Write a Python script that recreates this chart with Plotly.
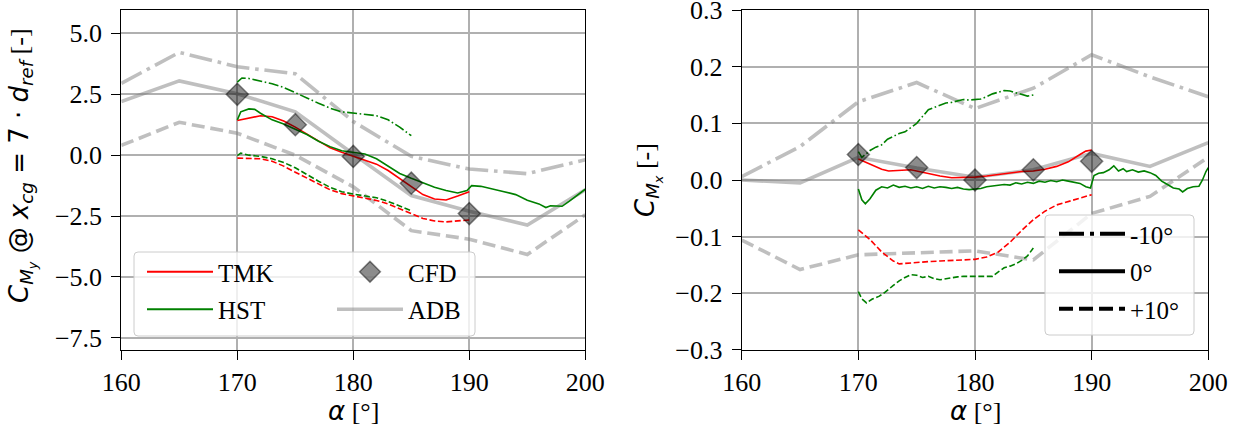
import plotly.graph_objects as go

# ---------------- data ----------------
alpha_adb = [160, 165, 170, 175, 180, 185, 190, 195, 200]
alpha_cfd = [170, 175, 180, 185, 190]

# Left: C_My
adb_my_m10 = [2.95, 4.22, 3.63, 3.34, 1.38, -0.05, -0.57, -0.76, -0.19]
adb_my_0 = [2.2, 3.05, 2.52, 1.78, 0.05, -1.66, -2.3, -2.87, -1.42]
adb_my_p10 = [0.4, 1.35, 0.9, 0.0, -1.3, -3.1, -3.45, -4.08, -2.45]
cfd_my = [2.5, 1.25, -0.05, -1.15, -2.4]

tmk_my_0_a = [170, 171, 172, 173, 174, 175, 176, 177, 178, 179, 180, 181, 182, 183, 184, 185, 186, 187, 188, 189, 190]
tmk_my_0 = [1.42, 1.53, 1.62, 1.58, 1.4, 1.15, 0.87, 0.57, 0.3, 0.12, -0.04, -0.2, -0.37, -0.63, -0.97, -1.3, -1.62, -1.8, -1.84, -1.68, -1.5]

tmk_my_p10_a = [170, 171, 172, 173, 174, 175, 176, 177, 178, 179, 180, 181, 182, 183, 184, 185, 186, 187, 188, 189, 190]
tmk_my_p10 = [-0.12, -0.12, -0.15, -0.25, -0.45, -0.7, -0.95, -1.2, -1.42, -1.58, -1.67, -1.77, -1.86, -2.0, -2.2, -2.42, -2.6, -2.7, -2.74, -2.7, -2.66]

hst_my_0_a = [170, 170.3, 171, 171.5, 172, 173, 174, 175, 176, 177, 178, 179, 180, 181, 182, 183, 184, 185, 186, 187, 188, 189,
              189.8, 190.2, 191, 192, 193, 194, 195, 196, 196.6, 197, 198, 198.6, 199.3, 200]
hst_my_0 = [1.45, 1.78, 1.9, 1.88, 1.72, 1.45, 1.28, 1.08, 0.85, 0.57, 0.35, 0.18, 0.1, 0.05, -0.15, -0.45, -0.75, -0.95, -1.15, -1.32, -1.45, -1.55,
            -1.45, -1.25, -1.28, -1.38, -1.5, -1.62, -1.85, -2.0, -2.15, -2.08, -2.1, -1.9, -1.65, -1.4]

hst_my_m10_a = [170, 170.4, 171, 172, 173, 174, 175, 176, 177, 178, 179, 180, 181, 182, 183, 184, 185]
hst_my_m10 = [3.0, 3.17, 3.15, 3.05, 2.93, 2.78, 2.58, 2.35, 2.13, 1.93, 1.78, 1.72, 1.66, 1.62, 1.45, 1.15, 0.8]

hst_my_p10_a = [170, 170.3, 171, 172, 173, 174, 175, 176, 177, 178, 179, 180, 181, 182, 183, 184, 185]
hst_my_p10 = [-0.02, 0.08, 0.0, -0.05, -0.15, -0.3, -0.52, -0.8, -1.07, -1.32, -1.5, -1.6, -1.68, -1.75, -1.9, -2.08, -2.28]

# Right: C_Mx
adb_mx_m10 = [0.006, 0.059, 0.138, 0.172, 0.126, 0.162, 0.221, 0.182, 0.147]
adb_mx_0 = [0.0, -0.005, 0.04, 0.021, 0.005, 0.018, 0.047, 0.024, 0.066]
adb_mx_p10 = [-0.106, -0.158, -0.132, -0.128, -0.125, -0.141, -0.059, -0.029, 0.04]
cfd_mx = [0.045, 0.022, 0.0, 0.018, 0.033]

tmk_mx_0_a = [170, 171, 172, 172.6, 173.5, 174.5, 175, 176, 177, 178, 179, 180, 181, 182, 183, 184, 185, 186, 187, 188, 189, 189.5, 190]
tmk_mx_0 = [0.037, 0.028, 0.019, 0.016, 0.017, 0.018, 0.016, 0.011, 0.007, 0.004, 0.004, 0.005, 0.007, 0.01, 0.013, 0.015, 0.016, 0.019, 0.024, 0.032, 0.045, 0.051, 0.053]

tmk_mx_p10_a = [170, 171, 172, 173, 173.5, 174.5, 176, 177, 178, 179, 180, 181, 182, 183, 184, 185, 186, 187, 188, 189, 190]
tmk_mx_p10 = [-0.088, -0.105, -0.127, -0.143, -0.148, -0.146, -0.144, -0.143, -0.142, -0.141, -0.14, -0.136, -0.127, -0.11, -0.089, -0.07, -0.055, -0.044, -0.038, -0.033, -0.026]

hst_mx_0_a = [170, 170.3, 170.6, 171, 171.5, 172, 172.5, 173, 173.5, 174, 174.5, 175, 175.5, 176, 176.5, 177, 177.5, 178, 178.5, 179, 179.5,
              180, 180.5, 181, 181.5, 182, 182.5, 183, 183.5, 184, 184.5, 185, 185.5, 186, 186.5, 187, 187.5, 188, 188.5, 189, 189.5, 189.9,
              190.2, 190.6, 191, 191.5, 191.9, 192.3, 192.7, 193, 193.5, 194, 194.5, 195, 195.5, 196, 196.5, 197, 197.5, 197.8, 198.2, 198.7,
              199.2, 199.5, 199.8, 200]
hst_mx_0 = [-0.016, -0.035, -0.042, -0.033, -0.018, -0.012, -0.014, -0.009, -0.013, -0.011, -0.014, -0.012, -0.015, -0.011, -0.014, -0.012,
            -0.013, -0.015, -0.013, -0.016, -0.017, -0.016, -0.015, -0.012, -0.011, -0.010, -0.008, -0.009, -0.005, -0.007, -0.004, -0.006,
            -0.002, -0.004, -0.001, -0.003, 0.0, -0.002, -0.004, -0.006, -0.012, -0.014, 0.008, 0.012, 0.013, 0.018, 0.025, 0.016, 0.02,
            0.015, 0.018, 0.014, 0.016, 0.013, 0.008, -0.002, -0.008, -0.014, -0.016, -0.021, -0.015, -0.012, -0.011, 0.0, 0.015, 0.022]

hst_mx_m10_a = [170, 170.3, 170.6, 171, 171.5, 172, 172.5, 173, 173.5, 174, 174.5, 175, 175.5, 176, 176.5, 177, 177.5, 178, 178.5, 179,
                179.5, 180, 180.5, 181, 181.5, 182, 182.5, 183, 183.5, 184, 184.5, 185]
hst_mx_m10 = [0.05, 0.04, 0.045, 0.052, 0.058, 0.062, 0.072, 0.077, 0.082, 0.085, 0.092, 0.1, 0.112, 0.124, 0.128, 0.132, 0.136, 0.137,
              0.14, 0.142, 0.141, 0.142, 0.143, 0.147, 0.152, 0.155, 0.158, 0.157, 0.154, 0.15, 0.148, 0.15]

hst_mx_p10_a = [170, 170.3, 170.7, 171.2, 171.8, 172.3, 173, 173.5, 174, 174.5, 175, 175.5, 176, 176.5, 177, 177.5, 178, 178.5, 179, 180,
                181, 181.5, 182, 182.5, 183, 183.5, 184, 184.5, 185]
hst_mx_p10 = [-0.197, -0.21, -0.217, -0.21, -0.205, -0.198, -0.186, -0.178, -0.172, -0.167, -0.168, -0.172, -0.17, -0.174, -0.176, -0.174,
              -0.172, -0.171, -0.17, -0.17, -0.171, -0.17, -0.162, -0.155, -0.152, -0.148, -0.142, -0.134, -0.12]

x_ticks = [160, 170, 180, 190, 200]
left_y_ticks = [-7.5, -5.0, -2.5, 0.0, 2.5, 5.0]
right_y_ticks = [-0.3, -0.2, -0.1, 0.0, 0.1, 0.2, 0.3]

# ---------------- styles ----------------
W, H = 1235, 430
RED = "#ff0000"
GREEN = "#008000"
GRAY = "rgba(128,128,128,0.5)"
SERIF = "Liberation Serif, Times New Roman, serif"
MATHF = "DejaVu Sans"
FS_TICK = 26
FS_LEG = 25
FS_TITLE = 26

THIN = 1.6
THICK = 3.6
dash_thin = "5.9px,2.6px"
dashdot_thin = "10px,2.6px,1.6px,2.6px"
dash_thick = "13px,5.8px"
dashdot_thick = "23px,5.8px,3.6px,5.8px"

fig = go.Figure()


def add(x, y, color, width, dash, xa, ya, name=None, legend=None, group=None):
    fig.add_trace(go.Scatter(
        x=x, y=y, mode="lines", xaxis=xa, yaxis=ya,
        line=dict(color=color, width=width, dash=dash),
        name=name or "", showlegend=legend is not None,
        legend=legend or "legend", legendgroup=group,
    ))


# ---- left panel ----
add(alpha_adb, adb_my_m10, GRAY, THICK, dashdot_thick, "x", "y")
add(alpha_adb, adb_my_0, GRAY, THICK, "solid", "x", "y")
add(alpha_adb, adb_my_p10, GRAY, THICK, dash_thick, "x", "y")
add(tmk_my_0_a, tmk_my_0, RED, THIN, "solid", "x", "y")
add(tmk_my_p10_a, tmk_my_p10, RED, THIN, dash_thin, "x", "y")
add(hst_my_0_a, hst_my_0, GREEN, THIN, "solid", "x", "y")
add(hst_my_m10_a, hst_my_m10, GREEN, THIN, dashdot_thin, "x", "y")
add(hst_my_p10_a, hst_my_p10, GREEN, THIN, dash_thin, "x", "y")

# ---- right panel ----
add(alpha_adb, adb_mx_m10, GRAY, THICK, dashdot_thick, "x2", "y2")
add(alpha_adb, adb_mx_0, GRAY, THICK, "solid", "x2", "y2")
add(alpha_adb, adb_mx_p10, GRAY, THICK, dash_thick, "x2", "y2")
add(tmk_mx_0_a, tmk_mx_0, RED, THIN, "solid", "x2", "y2")
add(tmk_mx_p10_a, tmk_mx_p10, RED, THIN, dash_thin, "x2", "y2")
add(hst_mx_0_a, hst_mx_0, GREEN, THIN, "solid", "x2", "y2")
add(hst_mx_m10_a, hst_mx_m10, GREEN, THIN, dashdot_thin, "x2", "y2")
add(hst_mx_p10_a, hst_mx_p10, GREEN, THIN, dash_thin, "x2", "y2")

diamond = dict(symbol="diamond", size=17, color="rgba(0,0,0,0.45)",
               line=dict(color="rgba(0,0,0,0.45)", width=1.5))
fig.add_trace(go.Scatter(x=alpha_cfd, y=cfd_my, mode="markers", marker=diamond,
                         xaxis="x", yaxis="y", showlegend=False))
fig.add_trace(go.Scatter(x=alpha_cfd, y=cfd_mx, mode="markers", marker=diamond,
                         xaxis="x2", yaxis="y2", showlegend=False))

# ---- legend entries ----
add([None], [None], RED, 2, "solid", "x", "y", name="TMK", legend="legend", group="g1")
add([None], [None], GREEN, 2, "solid", "x", "y", name="HST", legend="legend", group="g2")
fig.add_trace(go.Scatter(x=[None], y=[None], mode="markers", marker=diamond, name="CFD",
                         xaxis="x", yaxis="y", legend="legend2", legendgroup="g3"))
add([None], [None], GRAY, THICK, "solid", "x", "y", name="ADB", legend="legend2", group="g4")
add([None], [None], "black", 3.8, "25px,6px,4px,6px", "x2", "y2", name="-10°", legend="legend3", group="g5")
add([None], [None], "black", 3.8, "solid", "x2", "y2", name="0°", legend="legend3", group="g6")
add([None], [None], "black", 3.8, "14px,6px", "x2", "y2", name="+10°", legend="legend3", group="g7")


def px(x):
    return x / W


def py(y):
    return 1 - y / H


def rrect(x0, y0, x1, y1, r=4):
    X0, X1 = px(x0), px(x1)
    Y0, Y1 = py(y0), py(y1)
    rx, ry = r / W, r / H
    return (f"M{X0 + rx},{Y0} L{X1 - rx},{Y0} Q{X1},{Y0} {X1},{Y0 - ry} "
            f"L{X1},{Y1 + ry} Q{X1},{Y1} {X1 - rx},{Y1} L{X0 + rx},{Y1} "
            f"Q{X0},{Y1} {X0},{Y1 + ry} L{X0},{Y0 - ry} Q{X0},{Y0} {X0 + rx},{Y0} Z")


shapes = [
    dict(type="path", path=rrect(134, 252, 475, 336), xref="paper", yref="paper",
         fillcolor="rgba(255,255,255,0.8)", line=dict(color="#cccccc", width=1), layer="above"),
    dict(type="path", path=rrect(1045, 215, 1194, 335), xref="paper", yref="paper",
         fillcolor="rgba(255,255,255,0.8)", line=dict(color="#cccccc", width=1), layer="above"),
]

legend_common = dict(bgcolor="rgba(0,0,0,0)", borderwidth=0, font=dict(family=SERIF, size=FS_LEG, color="black"),
                     itemwidth=66, tracegroupgap=2, xanchor="left", yanchor="top", itemclick=False)

ax_common = dict(showline=True, linecolor="black", linewidth=1, mirror=True,
                 ticks="outside", ticklen=9, tickwidth=1, tickcolor="black",
                 showgrid=True, gridcolor="#b0b0b0", gridwidth=1.6, zeroline=False,
                 ticklabeloverflow="allow",
                 tickfont=dict(family=SERIF, size=FS_TICK, color="black"))

x_dom1 = [121.3 / W, 585.3 / W]
x_dom2 = [741.7 / W, 1208.3 / W]
y_dom = [1 - 350 / H, 1 - 10 / H]

fig.update_layout(
    width=W, height=H, margin=dict(l=0, r=0, t=0, b=0, autoexpand=False),
    paper_bgcolor="white", plot_bgcolor="white",
    xaxis=dict(domain=x_dom1, range=[160, 200], tickvals=x_ticks, anchor="y", ticklabelstandoff=0, **ax_common),
    yaxis=dict(domain=y_dom, range=[-8.0, 5.96], tickvals=left_y_ticks, tickformat=".1f", anchor="x",
               ticklabelstandoff=4, **ax_common),
    xaxis2=dict(domain=x_dom2, range=[160, 200], tickvals=x_ticks, anchor="y2", ticklabelstandoff=0, **ax_common),
    yaxis2=dict(domain=y_dom, range=[-0.30001, 0.30001], tickvals=right_y_ticks, tickformat=".1f", anchor="x2",
                ticklabelstandoff=4, **ax_common),
    legend=dict(x=px(142), y=py(249), **legend_common),
    legend2=dict(x=px(332), y=py(249), **legend_common),
    legend3=dict(x=px(1054), y=py(211), **legend_common),
    shapes=shapes,
    showlegend=True,
)

alpha_title = f'<span style="font-family:{MATHF}"><i>α</i></span> [°]'
left_title = (f'<span style="font-family:{MATHF}"><i>C</i><sub><i>M<sub>y</sub></i></sub> @ '
              f'<i>x</i><sub><i>cg</i></sub> = 7 · <i>d</i><sub><i>ref</i></sub></span> [-]')
right_title = f'<span style="font-family:{MATHF}"><i>C</i><sub><i>M<sub>x</sub></i></sub></span> [-]'

annos = [
    dict(text=alpha_title, x=(x_dom1[0] + x_dom1[1]) / 2, y=py(411)),
    dict(text=alpha_title, x=(x_dom2[0] + x_dom2[1]) / 2, y=py(411)),
    dict(text=left_title, x=px(22), y=py(166), textangle=-90),
    dict(text=right_title, x=px(648), y=py(180), textangle=-90),
]
for a in annos:
    fig.add_annotation(xref="paper", yref="paper", showarrow=False, xanchor="center", yanchor="middle",
                       font=dict(family=SERIF, size=FS_TITLE, color="black"), **a)

fig.write_html("out.html")
